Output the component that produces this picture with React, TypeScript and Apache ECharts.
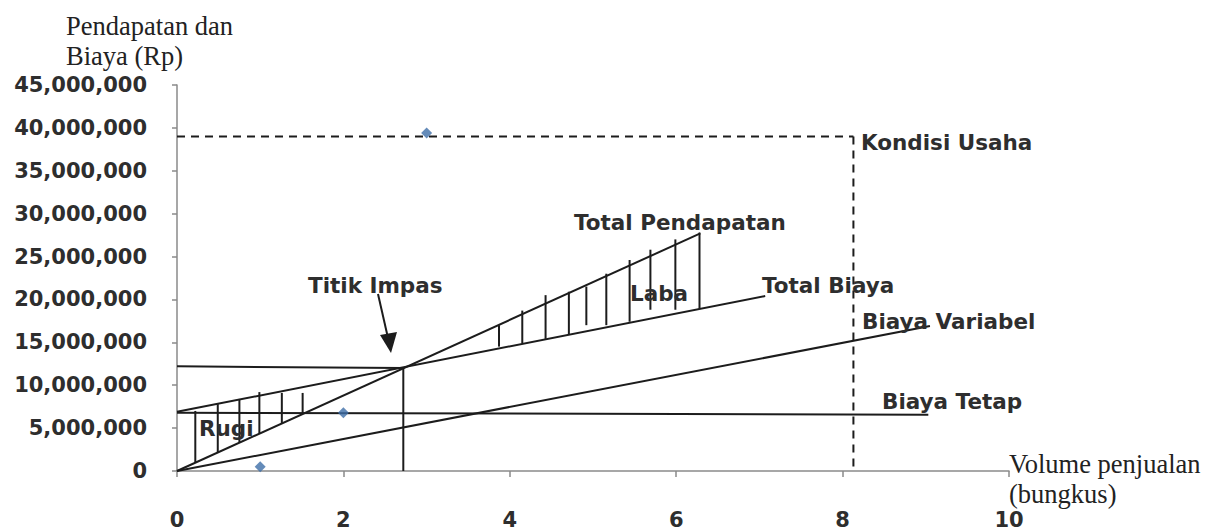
import React, { useEffect, useRef } from "react";
import * as echarts from "echarts";

// Axis ticks
const X_MIN = 0;
const X_MAX = 10;
const X_STEP = 2;
const Y_MIN = 0;
const Y_MAX = 45000000;
const Y_STEP = 5000000;

// Lines of the break-even chart (x = volume, y = Rp)
const totalPendapatan = [[0, 0], [6.29, 27700000]];
const totalBiaya = [[0, 6900000], [7.07, 20400000]];
const biayaVariabel = [[0, 0], [9.05, 16900000]];
const biayaTetap = [[0, 6800000], [9.03, 6550000]];
const impasHorizontal = [[0, 12200000], [2.72, 12000000]];
const impasVertical = [[2.72, 0], [2.72, 12000000]];
const kondisiHorizontal = [[0, 39000000], [8.13, 39000000]];
const kondisiVertical = [[8.13, 39000000], [8.13, 0]];

// Observed points (blue diamonds)
const observed = [[1, 500000], [2, 6800000], [3, 39400000]];

// Hatching: [x, bottom, top]
const rugiHatch = [
  [0.22, 1000000, 7000000],
  [0.49, 2200000, 7800000],
  [0.75, 3300000, 8400000],
  [0.99, 4400000, 9200000],
  [1.26, 5600000, 9100000],
  [1.51, 6700000, 9100000],
];
const labaHatch = [
  [3.87, 14500000, 17000000],
  [4.15, 14900000, 18700000],
  [4.43, 15400000, 20500000],
  [4.71, 15900000, 20900000],
  [4.92, 17000000, 21500000],
  [5.16, 17000000, 23000000],
  [5.44, 17400000, 24600000],
  [5.69, 18800000, 25800000],
  [5.99, 18800000, 27000000],
  [6.28, 18900000, 27800000],
];

const LINE = "#1c1c1c";
const LABEL = "#2e2e2e";
const BOLD = "DejaVu Sans";
const SERIF = "Liberation Serif";

function lineSeries(data: number[][], dashed = false) {
  return {
    type: "line",
    data,
    showSymbol: false,
    silent: true,
    lineStyle: { color: LINE, width: 2, type: dashed ? [8, 6] : "solid" },
    z: 3,
  };
}

function hatchSeries(data: number[][]) {
  return {
    type: "custom",
    data,
    silent: true,
    z: 3,
    renderItem: (_p: any, api: any) => {
      const x = api.value(0);
      const a = api.coord([x, api.value(1)]);
      const b = api.coord([x, api.value(2)]);
      return {
        type: "line",
        shape: { x1: a[0], y1: a[1], x2: b[0], y2: b[1] },
        style: { stroke: LINE, lineWidth: 2 },
      };
    },
  };
}

function label(text: string, x: number, y: number) {
  return {
    type: "text",
    x,
    y,
    style: {
      text,
      fill: LABEL,
      font: `bold 21.5px '${BOLD}'`,
      verticalAlign: "middle",
    },
    z: 10,
  };
}

function serifText(text: string, x: number, y: number) {
  return {
    type: "text",
    x,
    y,
    style: {
      text,
      fill: "#222",
      font: `26.5px '${SERIF}'`,
      verticalAlign: "middle",
    },
    z: 10,
  };
}

export default function App() {
  const ref = useRef<HTMLDivElement>(null);
  useEffect(() => {
    if (!ref.current) return;
    const chart = echarts.init(ref.current, undefined, { renderer: "svg" });
    chart.setOption({
      animation: false,
      backgroundColor: "#ffffff",
      grid: { left: 177, right: 199, top: 85, bottom: 60, containLabel: false },
      xAxis: {
        type: "value",
        min: X_MIN,
        max: X_MAX,
        interval: X_STEP,
        splitLine: { show: false },
        axisLine: { show: true, lineStyle: { color: "#8a8a8a", width: 1.5 } },
        axisTick: { show: true, length: 6, lineStyle: { color: "#8a8a8a", width: 1.5 } },
        axisLabel: {
          margin: 38,
          color: LABEL,
          fontFamily: BOLD,
          fontWeight: "bold",
          fontSize: 21,
        },
      },
      yAxis: {
        type: "value",
        min: Y_MIN,
        max: Y_MAX,
        interval: Y_STEP,
        splitLine: { show: false },
        axisLine: { show: true, lineStyle: { color: "#8a8a8a", width: 1.5 } },
        axisTick: { show: true, length: 5, lineStyle: { color: "#8a8a8a", width: 1.5 } },
        axisLabel: {
          margin: 30,
          color: LABEL,
          fontFamily: BOLD,
          fontWeight: "bold",
          fontSize: 21,
          formatter: (v: number) => v.toLocaleString("en-US"),
        },
      },
      series: [
        lineSeries(totalPendapatan),
        lineSeries(totalBiaya),
        lineSeries(biayaVariabel),
        lineSeries(biayaTetap),
        lineSeries(impasHorizontal),
        lineSeries(impasVertical),
        lineSeries(kondisiHorizontal, true),
        lineSeries(kondisiVertical, true),
        hatchSeries(rugiHatch),
        hatchSeries(labaHatch),
        {
          type: "scatter",
          data: observed,
          symbol: "diamond",
          symbolSize: 11,
          itemStyle: { color: "#3d6ea8" },
          silent: true,
          z: 5,
        },
      ],
      graphic: [
        serifText("Pendapatan dan", 66, 26),
        serifText("Biaya (Rp)", 66, 56),
        serifText("Volume penjualan", 1009, 464),
        serifText("(bungkus)", 1009, 494),
        label("Kondisi Usaha", 861, 142),
        label("Total Pendapatan", 574, 222),
        label("Titik Impas", 308, 285),
        label("Laba", 630, 293),
        label("Total Biaya", 762, 285),
        label("Biaya Variabel", 862, 321),
        label("Biaya Tetap", 882, 401),
        label("Rugi", 199, 428),
        {
          type: "line",
          shape: { x1: 378, y1: 294, x2: 388, y2: 338 },
          style: { stroke: LINE, lineWidth: 2 },
          z: 10,
        },
        {
          type: "polygon",
          shape: { points: [[380, 335], [397, 332], [391, 353]] },
          style: { fill: LINE },
          z: 10,
        },
      ],
    });
    return () => chart.dispose();
  }, []);
  return (
    <div
      ref={ref}
      style={{ position: "fixed", left: 0, top: 0, width: 1208, height: 531 }}
    />
  );
}
